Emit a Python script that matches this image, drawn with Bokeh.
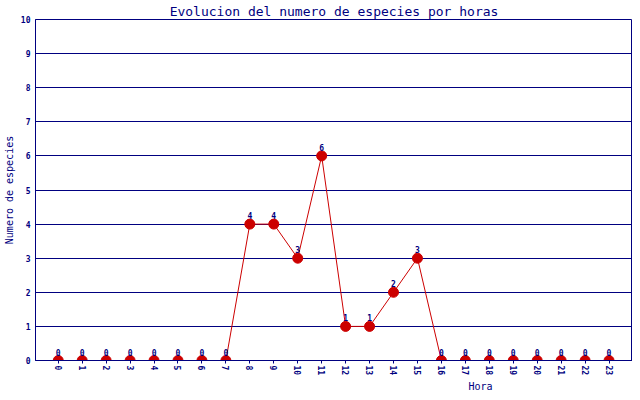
from bokeh.plotting import figure
from bokeh.models import ColumnDataSource, Range1d, FixedTicker, Title
from bokeh.core.properties import value
from bokeh.embed import file_html
from bokeh.resources import INLINE
import math

hours = list(range(24))
species = [0, 0, 0, 0, 0, 0, 0, 0, 4, 4, 3, 6, 1, 1, 2, 3, 0, 0, 0, 0, 0, 0, 0, 0]
y_ticks = list(range(11))
title_text = "Evolucion del numero de especies por horas"
x_title = "Hora"
y_title = "Numero de especies"

NAVY = "#000080"
RED = "#cc0000"
FONT = "DejaVu Sans Mono"

src = ColumnDataSource(dict(x=hours, y=species, lab=[str(v) for v in species]))

p = figure(frame_width=597, frame_height=341, output_backend="svg", toolbar_location=None,
           x_range=Range1d(-0.95, 23.98), y_range=Range1d(0, 10),
           min_border_left=0, min_border_right=0, min_border_top=0, min_border_bottom=0)

p.title.text = title_text
p.title.align = "center"
p.title.text_font = FONT
p.title.text_font_size = "13px"
p.title.text_font_style = "normal"
p.title.text_color = NAVY
p.title.standoff = 2

p.outline_line_color = NAVY
p.outline_line_width = 1
p.outline_line_alpha = 1

p.xgrid.grid_line_color = None
p.ygrid.grid_line_color = NAVY
p.ygrid.grid_line_width = 1
p.ygrid.ticker = FixedTicker(ticks=y_ticks)

p.xaxis.ticker = FixedTicker(ticks=hours)
p.yaxis.ticker = FixedTicker(ticks=y_ticks)
for ax in (p.xaxis, p.yaxis):
    ax.axis_line_color = NAVY
    ax.major_tick_line_color = NAVY
    ax.minor_tick_line_color = None
    ax.major_label_text_color = NAVY
    ax.major_label_text_font = FONT
    ax.major_label_text_font_size = "8px"
    ax.major_label_text_font_style = "bold"
    ax.axis_label_text_font = FONT
    ax.axis_label_text_font_size = "10px"
    ax.axis_label_text_font_style = "normal"
    ax.axis_label_text_color = NAVY
p.xaxis.major_tick_in = 0
p.xaxis.major_tick_out = 3
p.xaxis.major_label_orientation = -math.pi / 2
p.xaxis.major_label_standoff = 2
p.yaxis.major_tick_in = 0
p.yaxis.major_tick_out = 0
p.yaxis.major_label_standoff = 5
p.yaxis.axis_label = y_title
p.yaxis.axis_label_standoff = 3

p.line("x", "y", source=src, line_color=RED, line_width=1)
p.scatter("x", "y", source=src, size=10, fill_color=RED, line_color=RED)
p.text("x", "y", text="lab", source=src, text_font=value(FONT), text_font_size="8px",
       text_font_style="bold", text_color=NAVY, text_align="center",
       text_baseline="bottom", y_offset=-5)

p.add_layout(Title(text=x_title, align="right", offset=140, text_font=FONT,
                   text_font_size="10px", text_font_style="normal", text_color=NAVY,
                   standoff=0), "below")

open("out.html", "w").write(file_html(p, INLINE))
